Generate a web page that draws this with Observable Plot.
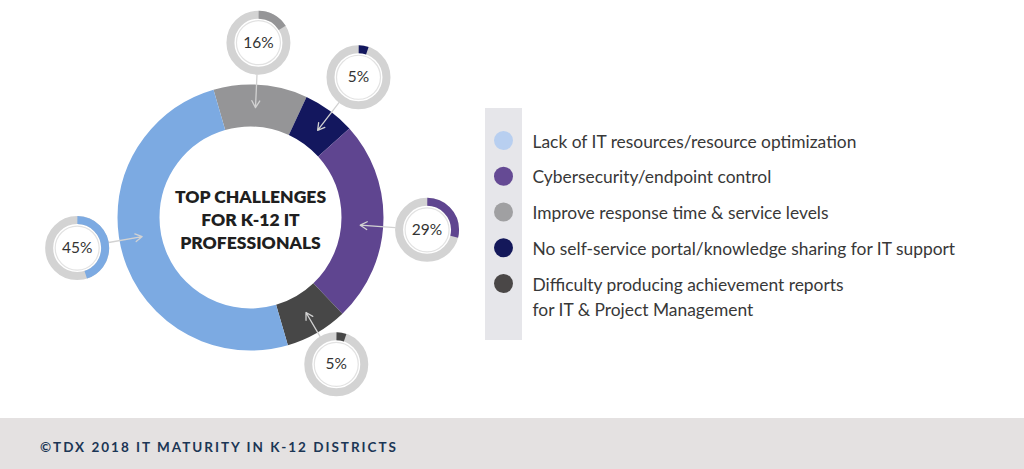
<!DOCTYPE html>
<html><head><meta charset="utf-8">
<script src="https://cdn.jsdelivr.net/npm/d3@7"></script>
<script src="https://cdn.jsdelivr.net/npm/@observablehq/plot@0.6"></script>
<style>
html,body{margin:0;padding:0;background:#fff;width:1024px;height:469px;overflow:hidden;font-family:Lato,sans-serif}
#chart svg{display:block}
#footer{height:51px;background:#e4e1e1;position:relative}
#footer span{position:absolute;left:40px;top:23px;line-height:13px;font-weight:700;font-size:13.5px;letter-spacing:2.0px;color:#1b3655;white-space:nowrap}
</style></head><body><div id="chart"></div><div id="footer"><span id="cap"></span></div>
<script>
// ---- data ----
const categories = [
  "Lack of IT resources/resource optimization",
  "Cybersecurity/endpoint control",
  "Improve response time & service levels",
  "No self-service portal/knowledge sharing for IT support",
  "Difficulty producing achievement reports\nfor IT & Project Management"
];
const percentLabels = [45, 29, 16, 5, 5];          // printed values (gauges)
const ringShare = [50, 24.6, 11.4, 6.4, 7.6];      // share of the big ring as drawn
const ringOrder = [2, 3, 1, 4, 0];                 // clockwise from the top
const centerTitle = "TOP CHALLENGES\nFOR K-12 IT\nPROFESSIONALS";
const caption = "©TDX 2018 IT MATURITY IN K-12 DISTRICTS";

// ---- styles ----
const ringColors = ["#7caae2", "#5f4590", "#959597", "#13175e", "#474747"];
const legendColors = ["#b8cff0", "#654a94", "#a0a0a2", "#14185a", "#4a4747"];
const font = "Lato, 'Open Sans', sans-serif";

// ---- layout ----
const W = 1024, H = 418;
const cx = 250, cy = 217, rOuter = 133, rInner = 91;
const ringStart = -16.4;                            // degrees clockwise from north
const gaugeAngle = [260, 94, 2.6, 37.6, 149.7];
const gaugeDist = [176, 177, 175, 177, 170];
const gaugeR = 28, gaugeW = 8, gaugeInnerR = 22, arrowTipR = 110;
const legendX = 503, legendTextX = 532, legendY0 = 140, legendStep = 35.75, legendLine = 25;

const angleOf = Plot.scale({x: {domain: [0, 100], range: [ringStart, ringStart + 360]}});
const rad = d => d * Math.PI / 180;
const polarX = (a, r) => cx + r * Math.sin(rad(a));
const polarY = (a, r) => cy - r * Math.cos(rad(a));
function dashFor(a0, a1, r) {
  const C = 2 * Math.PI * r;
  const L = (a1 - a0) / 360 * C;
  const s0 = ((((a0 - 90) % 360) + 360) % 360) / 360 * C;
  return {strokeDasharray: `${L} ${C - L}`, strokeDashoffset: C - s0};
}

// ring slices
const slices = [];
let acc = 0;
for (const i of ringOrder) {
  slices.push({i, a0: angleOf.apply(acc), a1: angleOf.apply(acc + ringShare[i])});
  acc += ringShare[i];
}
const rMid = (rOuter + rInner) / 2;
const ringMarks = slices.map(s => Plot.dot([{x: cx, y: cy}], {
  x: "x", y: "y", r: rMid, fill: "none", stroke: ringColors[s.i], strokeWidth: rOuter - rInner,
  ...dashFor(s.a0, s.a1, rMid)
}));

// gauges
const gauges = categories.map((c, i) => ({
  i, pct: percentLabels[i],
  x: polarX(gaugeAngle[i], gaugeDist[i]), y: polarY(gaugeAngle[i], gaugeDist[i]),
  x1: polarX(gaugeAngle[i], gaugeDist[i] - gaugeR - gaugeW / 2), y1: polarY(gaugeAngle[i], gaugeDist[i] - gaugeR - gaugeW / 2),
  x2: polarX(gaugeAngle[i], arrowTipR), y2: polarY(gaugeAngle[i], arrowTipR)
}));
const gaugeArcMarks = gauges.map(g => Plot.dot([g], {
  x: "x", y: "y", r: gaugeR, fill: "none", stroke: ringColors[g.i], strokeWidth: gaugeW,
  ...dashFor(0, g.pct / 100 * 360, gaugeR)
}));

// legend
const legend = categories.map((c, i) => {
  const y = legendY0 + i * legendStep;
  const n = c.split("\n").length;
  return {c, i, y, ty: y + (n - 1) * legendLine / 2 - 1};
});

const chart = Plot.plot({
  width: W, height: H, margin: 0,
  x: {domain: [0, W], range: [0, W], axis: null},
  y: {domain: [0, H], range: [0, H], axis: null},
  style: {fontFamily: font, background: "transparent"},
  marks: [
    Plot.rect([{x1: 485, x2: 522, y1: 108, y2: 340}], {x1: "x1", x2: "x2", y1: "y1", y2: "y2", fill: "#e6e6ea"}),
    ...ringMarks,
    Plot.arrow(gauges, {x1: "x1", y1: "y1", x2: "x2", y2: "y2", stroke: "#d2d2d2", strokeWidth: 1.3, headLength: 9}),
    Plot.dot(gauges, {x: "x", y: "y", r: gaugeR, fill: "none", stroke: "#d3d3d3", strokeWidth: gaugeW}),
    ...gaugeArcMarks,
    Plot.dot(gauges, {x: "x", y: "y", r: gaugeInnerR, fill: "#fff", stroke: "#e2e2e2", strokeWidth: 1.2}),
    Plot.text(gauges, {x: "x", y: "y", text: d => `${d.pct}%`, fontSize: 15.5, fill: "#333", fontFamily: font}),
    Plot.text([centerTitle], {x: cx, y: cy + 1, text: d => d, fontSize: 17.5, fontWeight: 800, lineHeight: 1.34, fill: "#1f1f1f", fontFamily: font}),
    Plot.dot(legend, {x: legendX, y: "y", r: 9.5, fill: d => legendColors[d.i]}),
    Plot.text(legend, {x: legendTextX, y: "ty", text: "c", textAnchor: "start", fontSize: 17.4, lineHeight: legendLine / 17.4, fill: "#383838", fontFamily: font})
  ]
});
document.getElementById("chart").appendChild(chart);
document.getElementById("cap").textContent = caption;
</script></body></html>
